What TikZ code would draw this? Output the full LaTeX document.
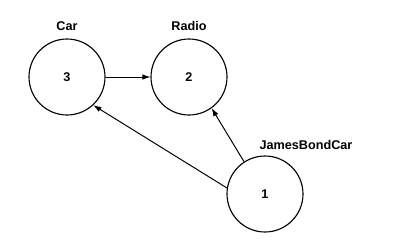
\documentclass[tikz,border=0pt]{standalone}
\usepackage{fontspec}
\setmainfont{Liberation Sans}
\usepackage{tikz}
\usetikzlibrary{positioning,arrows.meta}

\begin{document}
\begin{tikzpicture}[
    obj/.style={circle, draw=black, line width=0.8pt, minimum size=1.9cm,
                inner sep=0pt, font=\fontsize{9}{11}\selectfont\bfseries},
    lbl/.style={inner sep=0pt, font=\fontsize{9}{11}\selectfont\bfseries},
    arrow/.style={-{Latex[length=2mm, width=1.4mm]}, line width=0.7pt}
]
    \useasboundingbox (0,0) rectangle (10.475,6.05);

    \node[obj] (car)   at (1.675,4.125) {3};
    \node[obj] (radio) at (4.725,4.125) {2};
    \node[obj] (bond)  at (6.625,1.2)   {1};

    \node[lbl, above=0.18cm of car]   (carlbl)   {Car};
    \node[lbl, above=0.18cm of radio] (radiolbl) {Radio};
    \node[lbl] (bondlbl) at (7.65,2.425) {JamesBondCar};

    \draw[arrow] (car)       -- (radio);
    \draw[arrow] (bond.171)  -- (car.-47);
    \draw[arrow] (bond.123)  -- (radio.-54);
\end{tikzpicture}
\end{document}
